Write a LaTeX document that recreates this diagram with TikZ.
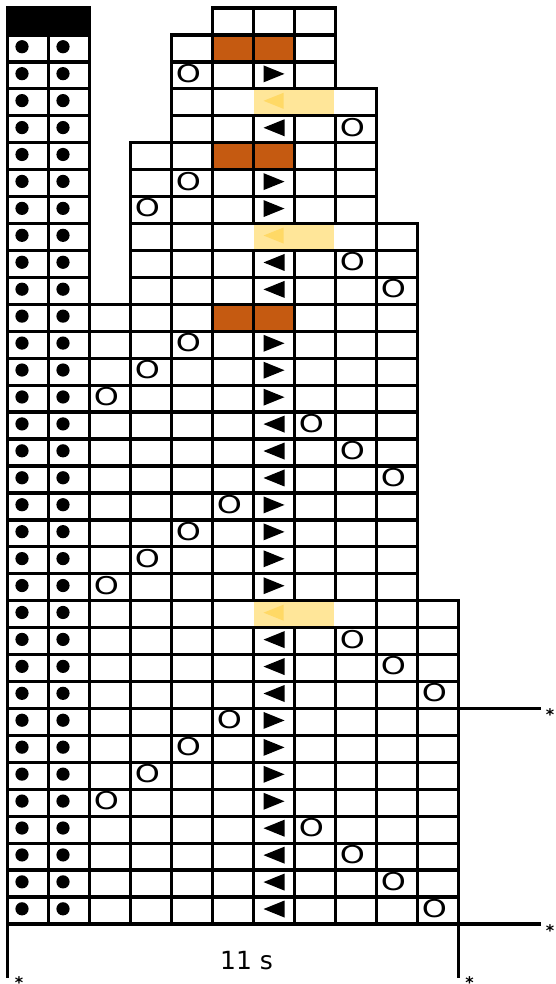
\documentclass[tikz,border=0pt]{standalone}
\usepackage{fontspec}
\setmainfont{DejaVu Sans}
\definecolor{brownc}{HTML}{C55A11}
\definecolor{yellowc}{HTML}{FFE699}
\definecolor{goldc}{HTML}{FFD966}
\newcommand\colx[1]{(7.5+41*(#1))}
\newcommand\rowy[1]{(8+26.94*(#1))}
\begin{document}
\begin{tikzpicture}[x=1pt,y=-1pt,
  gridline/.style={draw=black,line width=3.3pt},
  extline/.style={draw=black,line width=3.3pt},
  dotmark/.style={fill=black},
  trimark/.style={fill=black},
  oletter/.style={inner sep=0pt,font=\fontsize{24.5}{24.5}\selectfont},
  star/.style={inner sep=0pt,anchor=base,font=\bfseries\fontsize{16}{16}\selectfont},
  label/.style={inner sep=0pt,anchor=base,font=\fontsize{25}{25}\selectfont}]
\useasboundingbox (0,0) rectangle (556,984);
\fill[white] (0,0) rectangle (556,984);
% brown cells
\foreach \r in {1,5,11}
  \fill[brownc] ({\colx{5}},{\rowy{\r}}) rectangle ({\colx{7}},{\rowy{\r+1}});
% black header
\fill[black] ({\colx{0}},{\rowy{0}}) rectangle ({\colx{2}},{\rowy{1}});
% left block grid
\foreach \r in {0,...,33}
  \foreach \c in {0,1}
    \draw[gridline] ({\colx{\c}},{\rowy{\r}}) rectangle ({\colx{\c+1}},{\rowy{\r+1}});
% right block grid
\foreach \ra/\rb/\ca/\cb in {0/0/5/7, 1/2/4/7, 3/4/4/8, 5/7/3/8, 8/10/3/9, 11/21/2/9, 22/33/2/10}
  \foreach \r in {\ra,...,\rb}
    \foreach \c in {\ca,...,\cb}
      \draw[gridline] ({\colx{\c}},{\rowy{\r}}) rectangle ({\colx{\c+1}},{\rowy{\r+1}});
% yellow merged cells
\foreach \r in {3,8,22}{
  \fill[white] ({\colx{6}-1.9},{\rowy{\r}+1.6}) rectangle ({\colx{8}+1.9},{\rowy{\r+1}-1.6});
  \fill[yellowc] ({\colx{6}+0.5},{\rowy{\r}+1.6}) rectangle ({\colx{8}-2},{\rowy{\r+1}-1.6});
  \fill[goldc] ({\colx{6}+30},{\rowy{\r}+12-8}) -- ({\colx{6}+10},{\rowy{\r}+12}) -- ({\colx{6}+30},{\rowy{\r}+12+8}) -- cycle;
}
% right-pointing triangles
\foreach \r in {2,6,7,12,13,14,18,19,20,21,26,27,28,29}
  \fill[trimark] ({\colx{6}+10},{\rowy{\r}+12-8.5}) -- ({\colx{6}+31},{\rowy{\r}+12}) -- ({\colx{6}+10},{\rowy{\r}+12+8.5}) -- cycle;
% left-pointing triangles
\foreach \r in {4,9,10,15,16,17,23,24,25,30,31,32,33}
  \fill[trimark] ({\colx{6}+31},{\rowy{\r}+12-8.5}) -- ({\colx{6}+10},{\rowy{\r}+12}) -- ({\colx{6}+31},{\rowy{\r}+12+8.5}) -- cycle;
% dots
\foreach \r in {1,...,33}
  \foreach \c in {0,1}
    \fill[dotmark] ({\colx{\c}+14.5},{\rowy{\r}+11.8}) circle (6.6);
% O letters
\foreach \r/\c [count=\i] in {2/4,4/8,6/4,7/3,9/8,10/9,12/4,13/3,14/2,15/7,16/8,17/9,18/5,19/4,20/3,21/2,23/8,24/9,25/10,26/5,27/4,28/3,29/2,30/7,31/8,32/9,33/10}
  \node[oletter] (o\i) at ({\colx{\c}+17},{\rowy{\r}+11.5}) {\scalebox{1.3}[1]{O}};
% extension lines
\coordinate (gridRmid) at ({\colx{11}},{\rowy{26}});
\coordinate (extRmid) at (540.7,{\rowy{26}});
\coordinate (gridRbot) at ({\colx{11}},{\rowy{34}});
\coordinate (extRbot) at (540.7,{\rowy{34}});
\coordinate (gridLbot) at ({\colx{0}},{\rowy{34}});
\coordinate (extLdown) at ({\colx{0}},977.5);
\coordinate (extRdown) at ({\colx{11}},977.5);
\draw[extline] (gridRmid) -- (extRmid);
\draw[extline] (gridRbot) -- (extRbot);
\draw[extline] (gridLbot) -- (extLdown);
\draw[extline] (gridRbot) -- (extRdown);
% labels
\node[label] (span) at (246.5,969.5) {11 s};
\node[star] (s1) at (550,720.5) {*};
\node[star] (s2) at (550,936) {*};
\node[star] (s3) at (19,988) {*};
\node[star] (s4) at (469.5,988) {*};
\end{tikzpicture}
\end{document}
